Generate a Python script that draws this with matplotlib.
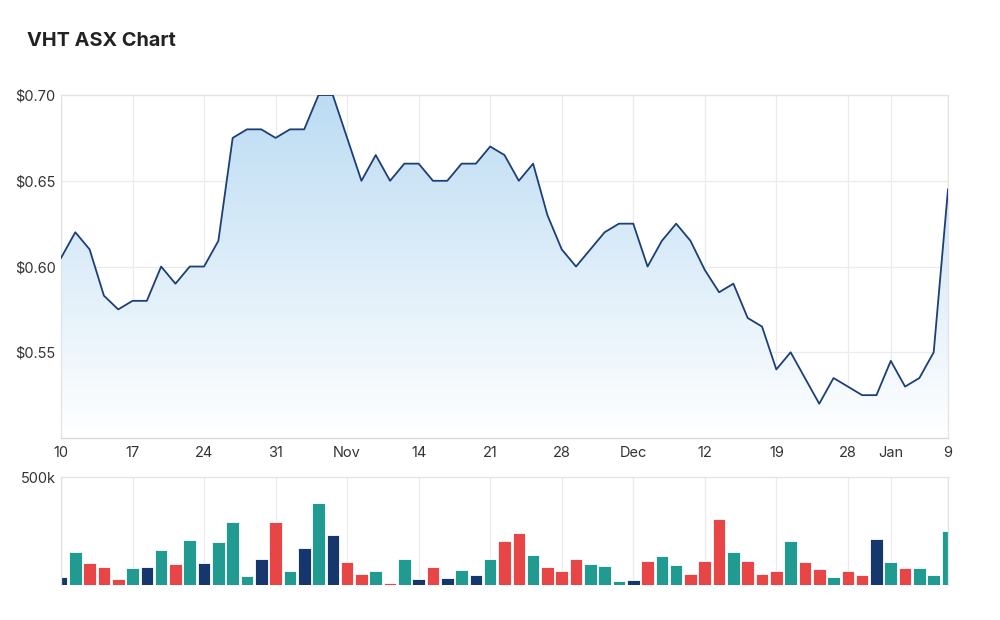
import numpy as np
import matplotlib
matplotlib.use("Agg")
import matplotlib.pyplot as plt
from matplotlib.colors import LinearSegmentedColormap
from matplotlib.patches import Polygon

plt.rcParams['font.family'] = ['Inter', 'DejaVu Sans']

# trading days Oct 10 2022 -> Jan 9 2023 (63 sessions), only some get labels
tick_idx = [0, 5, 10, 15, 20, 25, 30, 35, 40, 45, 50, 55, 58, 62]
tick_lbl = ["10", "17", "24", "31", "Nov", "14", "21", "28", "Dec", "12", "19", "28", "Jan", "9"]

price = [0.605, 0.62, 0.61, 0.583, 0.575, 0.58, 0.58, 0.60, 0.59, 0.60,
         0.60, 0.615, 0.675, 0.68, 0.68, 0.675, 0.68, 0.68, 0.70, 0.70,
         0.675, 0.65, 0.665, 0.65, 0.66, 0.66, 0.65, 0.65, 0.66, 0.66,
         0.67, 0.665, 0.65, 0.66, 0.63, 0.61, 0.60, 0.61, 0.62, 0.625,
         0.625, 0.60, 0.615, 0.625, 0.615, 0.598, 0.585, 0.59, 0.57, 0.565,
         0.54, 0.55, 0.535, 0.52, 0.535, 0.53, 0.525, 0.525, 0.545, 0.53,
         0.535, 0.55, 0.645]

volume = [39, 153, 102, 82, 28, 77, 82, 163, 98, 207,
          102, 198, 293, 43, 119, 293, 63, 172, 381, 232,
          108, 53, 63, 9, 119, 28, 82, 34, 68, 48,
          119, 203, 243, 138, 82, 63, 122, 98, 88, 17,
          23, 113, 133, 93, 53, 113, 307, 153, 113, 53,
          63, 203, 108, 73, 39, 63, 48, 212, 108, 77,
          77, 48, 252]
volume = [v * 1000 for v in volume]

# t = teal (up), r = red (down), d = navy (flat)
vol_kind = "dtrrrtdtrtdtttdrtdtdrrtrtdrdtdtrrtrrrtttdrttrrrtrrrtrrtrrdtrttt"

col_map = {"t": "#219a91", "r": "#e84646", "d": "#15376e"}
line_col = "#1d3f75"
grid_col = "#ebebeb"
txt_col = "#333333"

x = np.arange(len(price))

fig = plt.figure(figsize=(10, 6.2), dpi=100)
fig.text(0.027, 0.934, "VHT ASX Chart", fontsize=14.3, fontweight="bold",
         color="#222222", ha="left", va="center")

# ---- price panel
ax = fig.add_axes([0.061, 0.2935, 0.887, 0.5532])
lo, hi = 0.50, 0.70
ax.set_xlim(0, len(price) - 1)
ax.set_ylim(lo, hi)

cmap = LinearSegmentedColormap.from_list("fade", ["#ffffff", "#bcdcf3"])
grad = np.linspace(0, 1, 256).reshape(-1, 1)
img = ax.imshow(grad, cmap=cmap, aspect="auto", origin="lower",
                extent=[0, len(price) - 1, lo, hi], zorder=1)
verts = [(0, lo)] + list(zip(x, price)) + [(len(price) - 1, lo)]
poly = Polygon(verts, closed=True, facecolor="none", edgecolor="none")
ax.add_patch(poly)
img.set_clip_path(poly)

ax.plot(x, price, color=line_col, lw=1.3, zorder=3)

ax.set_xticks(tick_idx)
ax.set_xticklabels(tick_lbl)
ax.set_yticks([0.55, 0.60, 0.65, 0.70])
ax.set_yticklabels(["$0.55", "$0.60", "$0.65", "$0.70"])
ax.grid(True, color=grid_col, lw=0.9, zorder=0)
ax.set_axisbelow(True)
ax.tick_params(length=0, labelsize=10.5, colors=txt_col, pad=6)
ax.tick_params(axis="y", pad=4)
for s in ax.spines.values():
    s.set_color("#e3e3e3")
    s.set_linewidth(0.9)
ax.spines["bottom"].set_color("#d6d6d6")

# ---- volume panel
av = fig.add_axes([0.061, 0.0565, 0.887, 0.174])
av.bar(x, volume, width=0.88, color=[col_map[k] for k in vol_kind],
       edgecolor="white", linewidth=0.6, zorder=2)
av.set_xlim(0, len(price) - 1)
av.set_ylim(0, 500000)
av.set_xticks(tick_idx)
av.set_xticklabels([])
av.set_yticks([500000])
av.set_yticklabels(["500k"])
av.grid(True, axis="x", color=grid_col, lw=0.9, zorder=0)
av.tick_params(length=0, labelsize=10.5, colors=txt_col, pad=4)
for s in av.spines.values():
    s.set_color("#e3e3e3")
    s.set_linewidth(0.9)
av.spines["bottom"].set_visible(False)

fig.savefig("out.png", dpi=100)
